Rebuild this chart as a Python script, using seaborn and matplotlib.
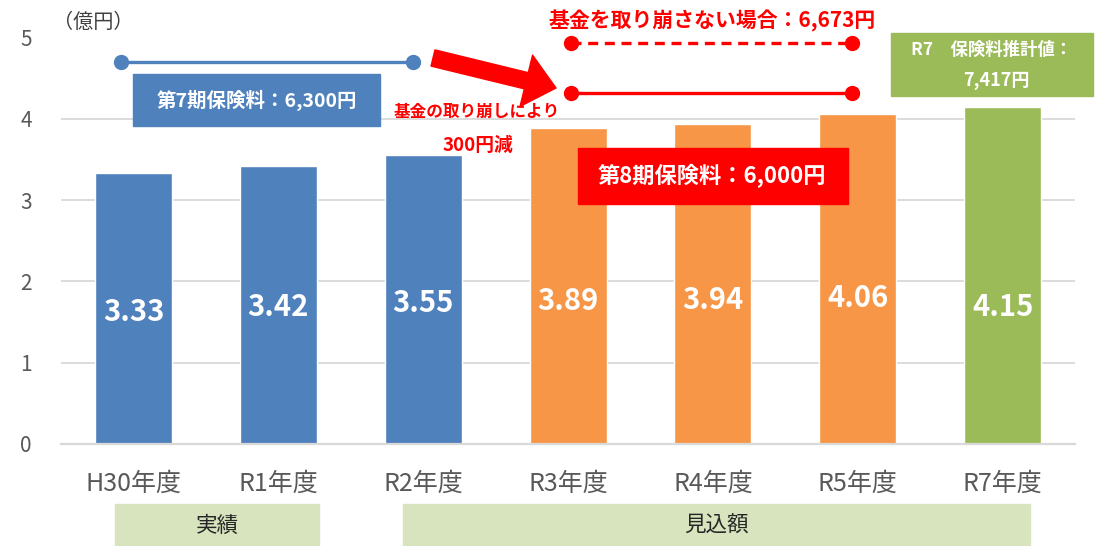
"""
Premium forecast chart (億円) by fiscal year, with period premium annotations.
Saves out.png
"""
import matplotlib
matplotlib.use("Agg")

import matplotlib.pyplot as plt
from matplotlib.patches import Rectangle
import seaborn as sns

# ── data ──────────────────────────────────────────────────────────────────────
YEARS  = ["H30年度", "R1年度", "R2年度", "R3年度", "R4年度", "R5年度", "R7年度"]
VALUES = [3.33, 3.42, 3.55, 3.89, 3.94, 4.06, 4.15]
COLORS = ["#4F81BD", "#4F81BD", "#4F81BD", "#F79646", "#F79646", "#F79646", "#9BBB59"]

GROUPS = ["実績", "見込額"]
PREMIUM_7     = "第7期保険料：6,300円"
PREMIUM_8     = "第8期保険料：6,000円"
PREMIUM_NOFUND = "基金を取り崩さない場合：6,673円"
PREMIUM_R7    = ["R7　保険料推計値：", "7,417円"]
FUND_NOTE     = ["基金の取り崩しにより", "300円減"]

# label heights (pixels from top) as placed in the original
LABEL_Y = [312, 307, 303, 301, 300, 298, 307]

sns.set_theme(style="whitegrid")
plt.rcParams["font.family"] = ["Noto Sans CJK JP", "DejaVu Sans"]

W, H = 1097, 546
fig = plt.figure(figsize=(W / 100, H / 100), dpi=100)
ax = fig.add_axes([61.1 / W, 1 - 444 / H, (1075 - 61.1) / W, (444 - 37.5) / H])

sns.barplot(x=YEARS, y=VALUES, hue=YEARS, palette=COLORS, width=0.532,
            saturation=1, legend=False, ax=ax, zorder=2)

ax.set_xlim(-0.5, len(YEARS) - 0.5)
ax.set_ylim(0, 5)
ax.set_yticks(range(6))
ax.set_xlabel("")
ax.set_ylabel("")
ax.grid(axis="y", color="#D9D9D9", lw=1.3)
ax.grid(axis="x", visible=False)
for s in ["left", "right", "top"]:
    ax.spines[s].set_visible(False)
ax.spines["bottom"].set_color("#D9D9D9")
ax.spines["bottom"].set_linewidth(1.6)
ax.tick_params(axis="y", length=0, pad=21, labelsize=15, labelcolor="#595959")
ax.tick_params(axis="x", length=0, pad=19, labelsize=18, labelcolor="#595959")

# ── overlay in pixel coordinates for annotations ─────────────────────────────
ov = fig.add_axes([0, 0, 1, 1], zorder=5)
ov.set_xlim(0, W)
ov.set_ylim(H, 0)
ov.axis("off")

# bar value labels
for i, (v, ly) in enumerate(zip(VALUES, LABEL_Y)):
    xc = ov.transData.inverted().transform(ax.transData.transform((i, 0)))[0]
    ov.text(xc, ly, f"{v:.2f}", ha="center", va="center", color="white",
            fontsize=21, fontweight="bold")

ov.text(93, 22, "（億円）", ha="center", va="center", fontsize=14.5, color="#404040")

# 第7期
ov.plot([121, 413], [62, 62], color="#4F81BD", lw=2.4, marker="o", ms=10)
ov.add_patch(Rectangle((133, 74), 247, 52, color="#4F81BD"))
ov.text(257, 100, PREMIUM_7, ha="center", va="center", color="white",
        fontsize=14, fontweight="bold")

# arrow + note
ov.annotate("", xy=(556, 88), xytext=(433, 58),
            arrowprops=dict(arrowstyle="simple,head_length=1.1,head_width=1.9,tail_width=0.6",
                            mutation_scale=20, color="red", shrinkA=0, shrinkB=0))
ov.text(477, 112, FUND_NOTE[0], ha="center", va="center", color="red",
        fontsize=12, fontweight="bold")
ov.text(478, 145, FUND_NOTE[1], ha="center", va="center", color="red",
        fontsize=13.5, fontweight="bold")

# 第8期
ov.text(712, 21, PREMIUM_NOFUND, ha="center", va="center", color="red",
        fontsize=15, fontweight="bold")
ov.plot([571, 852], [43, 43], color="red", lw=2.4, ls=(0, (3, 2)))
ov.plot([571, 852], [43, 43], color="red", lw=0, marker="o", ms=10)
ov.plot([571, 852], [93, 93], color="red", lw=2.4, marker="o", ms=10)
ov.add_patch(Rectangle((578, 148), 270, 56, color="red"))
ov.text(712, 176, PREMIUM_8, ha="center", va="center", color="white",
        fontsize=16, fontweight="bold")

# R7
ov.add_patch(Rectangle((891, 33), 202, 63, color="#9BBB59"))
ov.text(992, 50, PREMIUM_R7[0], ha="center", va="center", color="white",
        fontsize=12.5, fontweight="bold")
ov.text(996, 81, PREMIUM_R7[1], ha="center", va="center", color="white",
        fontsize=13, fontweight="bold")

# group boxes under the axis
for (x0, x1), lbl in zip([(115, 319), (403, 1030)], GROUPS):
    ov.add_patch(Rectangle((x0, 504), x1 - x0, 42, color="#D7E4BD"))
    ov.text((x0 + x1) / 2, 526, lbl, ha="center", va="center",
            fontsize=15.5, color="#262626")

fig.savefig("out.png", dpi=100)
print("Saved → out.png")
